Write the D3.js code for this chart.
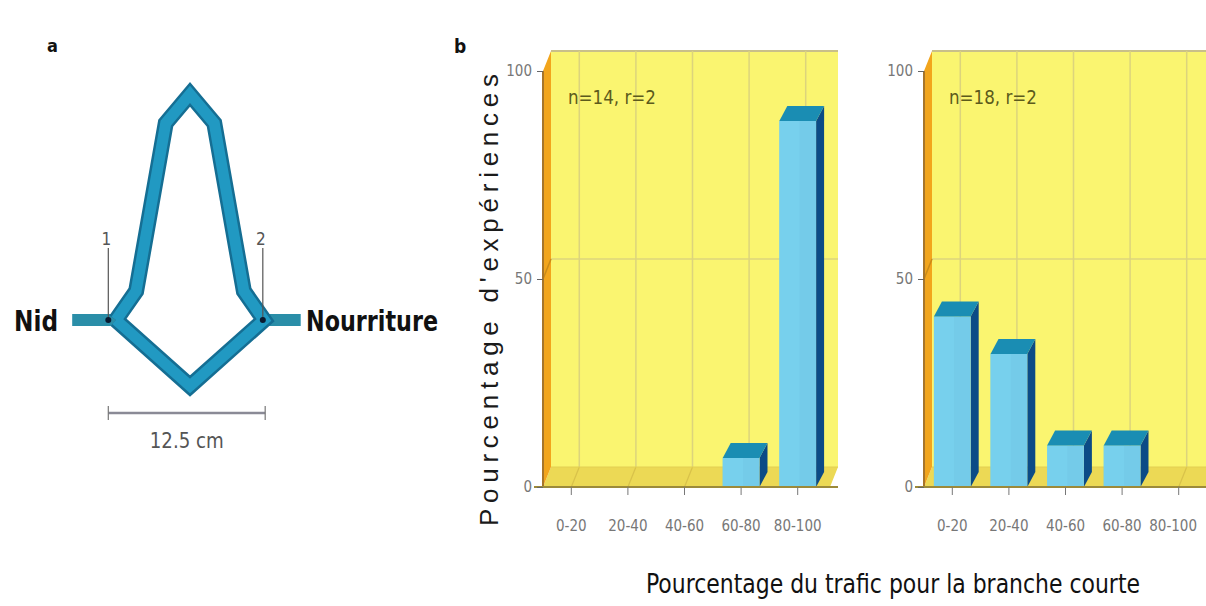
<!DOCTYPE html>
<html><head><meta charset="utf-8">
<script src="https://cdn.jsdelivr.net/npm/d3@7"></script>
<style>
body{margin:0;background:#fff;}
text{font-family:"Liberation Sans Narrow","DejaVu Sans Condensed","Arial Narrow",sans-serif;}
</style></head>
<body><svg id="c" width="1206" height="606"></svg>
<script>
// ---- data ----
const categories = ["0-20","20-40","40-60","60-80","80-100"];
const seriesA = [0,0,0,7,88];      // n=14, r=2
const seriesB = [41,32,10,10,0];   // n=18, r=2
const yTicks = [0,50,100];
const panelNotes = ["n=14, r=2","n=18, r=2"];
const bridgeLengthCm = 12.5;

const svg = d3.select("#c");
svg.append("rect").attr("width",1206).attr("height",606).attr("fill","#fff");

// ---------- panel a : bridge diagram ----------
const ga = svg.append("g");
ga.append("text").attr("x",47).attr("y",52).attr("font-size",18).attr("font-weight","bold").attr("fill","#111").text("a");
const cx = d3.scaleLinear().domain([0,bridgeLengthCm]).range([116,264]);
const cy = d3.scaleLinear().domain([0,1]).range([320,308]);
const bridge = [[0,0],[1.7,2.4],[4.2,16.4],[6.25,18.8],[8.3,16.4],[10.8,2.4],[12.5,0],[6.25,-5.5],[0,0]];
const line = d3.line().x(d=>cx(d[0])).y(d=>cy(d[1]));
ga.append("line").attr("x1",cx(-3.7)).attr("x2",cx(0)).attr("y1",cy(0)).attr("y2",cy(0)).attr("stroke","#2a8ea8").attr("stroke-width",12);
ga.append("line").attr("x1",cx(bridgeLengthCm)).attr("x2",cx(bridgeLengthCm+3.1)).attr("y1",cy(0)).attr("y2",cy(0)).attr("stroke","#2a8ea8").attr("stroke-width",12);
ga.append("path").attr("d",line(bridge)).attr("fill","none").attr("stroke","#156e93").attr("stroke-width",16).attr("stroke-linejoin","miter");
ga.append("path").attr("d",line(bridge)).attr("fill","none").attr("stroke","#2199c2").attr("stroke-width",11).attr("stroke-linejoin","miter");
[[ -0.65,"1"],[12.4,"2"]].forEach(([c,t])=>{
  ga.append("line").attr("x1",cx(c)).attr("x2",cx(c)).attr("y1",248).attr("y2",318).attr("stroke","#555").attr("stroke-width",1.2);
  ga.append("circle").attr("cx",cx(c)).attr("cy",320).attr("r",3).attr("fill","#0a1a30");
  ga.append("text").attr("x",cx(c)-2).attr("y",245).attr("font-size",17).attr("fill","#555").attr("text-anchor","middle").text(t);
});
ga.append("text").attr("x",14).attr("y",331).attr("font-size",29).attr("font-weight","bold").attr("textLength",44).attr("lengthAdjust","spacingAndGlyphs").attr("fill","#111").text("Nid");
ga.append("text").attr("x",306).attr("y",331).attr("font-size",29).attr("font-weight","bold").attr("textLength",132).attr("lengthAdjust","spacingAndGlyphs").attr("fill","#111").text("Nourriture");
const sx0 = cx(-0.65), sx1 = cx(bridgeLengthCm+0.1);
ga.append("line").attr("x1",sx0).attr("x2",sx1).attr("y1",413).attr("y2",413).attr("stroke","#8a8a96").attr("stroke-width",2.5);
[sx0,sx1].forEach(x=>ga.append("line").attr("x1",x).attr("x2",x).attr("y1",406).attr("y2",420).attr("stroke","#777").attr("stroke-width",1.2));
ga.append("text").attr("x",(sx0+sx1)/2).attr("y",448).attr("text-anchor","middle").attr("font-size",21).attr("fill","#555").attr("textLength",74).attr("lengthAdjust","spacingAndGlyphs").text(bridgeLengthCm+" cm");

// ---------- panel b : 3D bar charts ----------
svg.append("text").attr("x",454).attr("y",53).attr("font-size",19).attr("font-weight","bold").attr("fill","#111").text("b");
const y = d3.scaleLinear().domain([0,100]).range([487,71]);
const dx = 8, dy = -20, bdx = 8, bdy = -15;

function panel(x0, values, note){
  const g = svg.append("g");
  const xb = d3.scaleBand().domain(categories).range([x0, x0+283]).paddingInner(0.35).paddingOuter(0.175);
  const xr = x0+287;
  const base = y(0), top = y(100);
  g.append("rect").attr("x",x0+dx).attr("y",top+dy-1).attr("width",xr-x0).attr("height",base-top+1).attr("fill","#faf570");
  g.append("path").attr("d",`M${x0},${base}L${x0+dx},${base+dy}L${xr+dx},${base+dy}L${xr},${base}Z`).attr("fill","#ecd955");
  g.append("path").attr("d",`M${x0},${base}L${x0+dx},${base+dy}L${x0+dx},${top+dy}L${x0},${top}Z`).attr("fill","#f2a51c");
  const gc = "#dcd47c";
  g.append("line").attr("x1",x0+dx).attr("x2",xr+dx).attr("y1",top+dy).attr("y2",top+dy).attr("stroke","#c9c089").attr("stroke-width",2);
  g.append("line").attr("x1",x0+dx).attr("x2",xr+dx).attr("y1",y(50)+dy).attr("y2",y(50)+dy).attr("stroke",gc).attr("stroke-width",1.5);
  g.append("line").attr("x1",x0).attr("x2",x0+dx).attr("y1",y(50)).attr("y2",y(50)+dy).attr("stroke","#c98a18").attr("stroke-width",1.5);
  categories.forEach(c=>{
    const xc = xb(c)+xb.bandwidth()/2;
    g.append("line").attr("x1",xc+dx).attr("x2",xc+dx).attr("y1",base+dy).attr("y2",top+dy).attr("stroke",gc).attr("stroke-width",1.5);
    g.append("line").attr("x1",xc).attr("x2",xc+dx).attr("y1",base).attr("y2",base+dy).attr("stroke","#d8c24a").attr("stroke-width",1.2);
  });
  g.append("line").attr("x1",x0+dx).attr("x2",xr+dx).attr("y1",base+dy).attr("y2",base+dy).attr("stroke","#e2cf52").attr("stroke-width",1);
  categories.forEach((c,i)=>{
    const v = values[i]; if(!v) return;
    const x = xb(c), w = xb.bandwidth(), yv = y(v);
    g.append("path").attr("d",`M${x+w},${yv}L${x+w+bdx},${yv+bdy}L${x+w+bdx},${base+bdy}L${x+w},${base}Z`).attr("fill","#0c4b86");
    g.append("rect").attr("x",x).attr("y",yv).attr("width",w).attr("height",base-yv).attr("fill","#74cbe9");
    g.append("rect").attr("x",x).attr("y",yv).attr("width",w*0.55).attr("height",base-yv).attr("fill","#7ad3f0").attr("opacity",0.6);
    g.append("path").attr("d",`M${x},${yv}L${x+bdx},${yv+bdy}L${x+w+bdx},${yv+bdy}L${x+w},${yv}Z`).attr("fill","#1a8db3");
  });
  g.append("line").attr("x1",x0).attr("x2",x0).attr("y1",top).attr("y2",base).attr("stroke","#a7752a").attr("stroke-width",2);
  g.append("line").attr("x1",x0-9).attr("x2",xr+dx).attr("y1",base).attr("y2",base).attr("stroke","#9c8a3a").attr("stroke-width",2);
  const ay = g.append("g").attr("transform",`translate(${x0},0)`).call(d3.axisLeft(y).tickValues(yTicks).tickSize(6).tickPadding(5));
  ay.select(".domain").remove();
  ay.selectAll(".tick line").attr("stroke","#666");
  ay.selectAll("text").style("font-size","15px").attr("fill","#777");
  const ax = g.append("g").attr("transform",`translate(0,${base})`).call(d3.axisBottom(xb).tickSize(8).tickPadding(25));
  ax.select(".domain").remove();
  ax.selectAll(".tick line").attr("stroke","#777");
  ax.selectAll(".tick text").style("font-size","15px").attr("fill","#777")
    .each(function(d){
      const c = xb(d)+xb.bandwidth()/2, w = this.getComputedTextLength();
      const over = c + w/2 - 1197;
      if(over > 0) d3.select(this).attr("x", -over);
    });
  g.append("text").attr("x",x0+25).attr("y",104).attr("font-size",19).attr("fill","#5c5a1c").attr("textLength",88).attr("lengthAdjust","spacingAndGlyphs").text(note);
}
panel(543, seriesA, panelNotes[0]);
panel(924, seriesB, panelNotes[1]);

svg.append("text").attr("transform","translate(498,300) rotate(-90)").attr("text-anchor","middle")
  .attr("font-size",26).attr("fill","#1a1a1a").attr("textLength",452).attr("lengthAdjust","spacing")
  .style("font-family",'"Liberation Sans","DejaVu Sans",sans-serif').text("Pourcentage d'expériences");
svg.append("text").attr("x",893).attr("y",593).attr("text-anchor","middle").attr("font-size",26).attr("fill","#111")
  .attr("textLength",494).attr("lengthAdjust","spacingAndGlyphs").text("Pourcentage du trafic pour la branche courte");
</script></body></html>
